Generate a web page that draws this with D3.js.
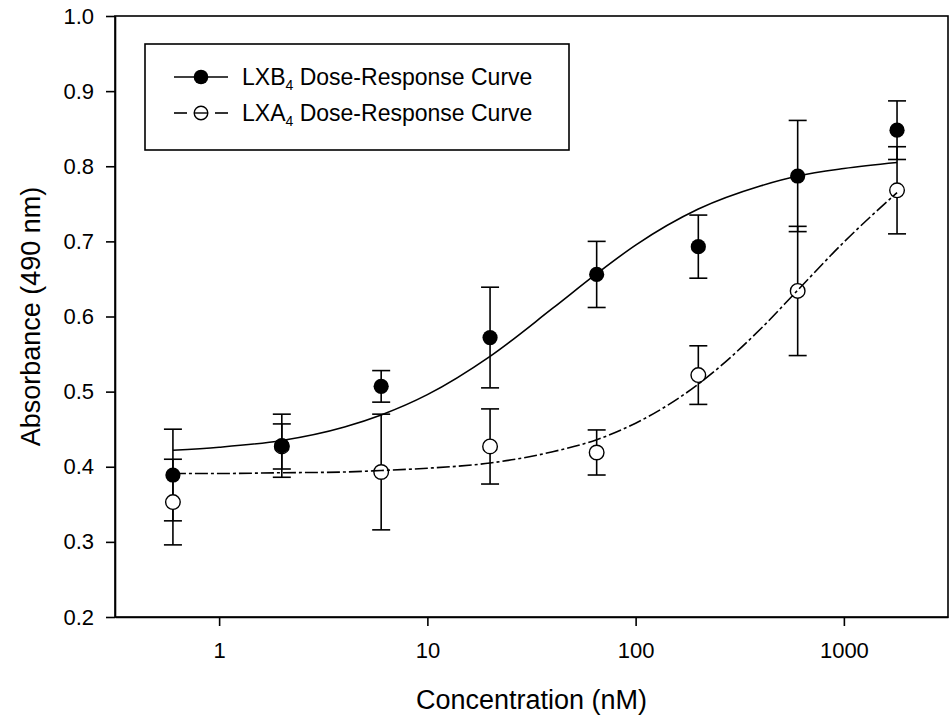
<!DOCTYPE html>
<html>
<head>
<meta charset="utf-8">
<script src="https://cdn.jsdelivr.net/npm/d3@7"></script>
<style>
  body { margin: 0; background: #fff; }
  text { font-family: Arial, "Liberation Sans", sans-serif; fill: #000; }
</style>
</head>
<body>
<script>
// measured points (mean +/- error), concentration in nM
var conc = [0.6, 2, 6, 20, 65, 200, 600, 1800];
var lxb4Mean = [0.389, 0.428, 0.507, 0.572, 0.656, 0.693, 0.787, 0.848];
var lxb4Err = [0.061, 0.042, 0.021, 0.067, 0.044, 0.042, 0.074, 0.039];
var lxa4Mean = [0.353, 0.427, 0.393, 0.427, 0.419, 0.522, 0.634, 0.768];
var lxa4Err = [0.057, 0.030, 0.077, 0.050, 0.030, 0.039, 0.086, 0.058];

// fitted curves
var curveConc = [0.6, 1, 2, 4, 6, 10, 20, 40, 65, 100, 200, 400, 600, 1000, 1800];
var lxb4Fit = [0.422, 0.426, 0.435, 0.453, 0.469, 0.496, 0.547, 0.611, 0.657, 0.695, 0.743, 0.774, 0.787, 0.797, 0.805];
var lxa4Fit = [0.391, 0.391, 0.392, 0.393, 0.395, 0.398, 0.405, 0.420, 0.436, 0.458, 0.510, 0.584, 0.635, 0.699, 0.765];

var xTicks = [1, 10, 100, 1000];
var yTicks = [0.2, 0.3, 0.4, 0.5, 0.6, 0.7, 0.8, 0.9, 1.0];

var w = 951;
var h = 720;
var plotLeft = 115, plotRight = 948, plotTop = 16, plotBottom = 617;

var svg = d3.select('body').append('svg')
  .attr('width', w)
  .attr('height', h);

var x = d3.scaleLog()
  .domain([Math.pow(10, -0.5), Math.pow(10, 3.5)])
  .range([plotLeft, plotRight]);

var y = d3.scaleLinear()
  .domain([0.2, 1.0])
  .range([plotBottom, plotTop]);

// frame
svg.append('rect')
  .attr('x', plotLeft)
  .attr('y', plotTop)
  .attr('width', plotRight - plotLeft)
  .attr('height', plotBottom - plotTop)
  .attr('fill', 'none')
  .attr('stroke', '#000')
  .attr('stroke-width', 1.6);

var yAxis = svg.append('g')
  .attr('transform', 'translate(' + plotLeft + ',0)')
  .call(d3.axisLeft(y).tickValues(yTicks).tickFormat(d3.format('.1f'))
    .tickSize(9).tickSizeOuter(0).tickPadding(12));

var xAxis = svg.append('g')
  .attr('transform', 'translate(0,' + plotBottom + ')')
  .call(d3.axisBottom(x).tickValues(xTicks).tickFormat(d3.format('d'))
    .tickSize(9).tickSizeOuter(0).tickPadding(16));

[xAxis, yAxis].forEach(g => {
  g.select('.domain').attr('stroke-width', 1.6);
  g.selectAll('.tick line').attr('stroke-width', 1.6);
  g.selectAll('.tick text')
    .attr('font-size', 22)
    .attr('font-family', 'Arial, "Liberation Sans", sans-serif')
    .attr('fill', '#000');
});

svg.append('text')
  .attr('x', (plotLeft + plotRight) / 2)
  .attr('y', 709)
  .attr('text-anchor', 'middle')
  .attr('font-size', 27)
  .text('Concentration (nM)');

svg.append('text')
  .attr('transform', 'translate(40,' + (plotTop + plotBottom) / 2 + ') rotate(-90)')
  .attr('text-anchor', 'middle')
  .attr('font-size', 27)
  .text('Absorbance (490 nm)');

var capHalf = 9;

var drawErrors = (means, errs) => {
  var g = svg.append('g').attr('stroke', '#000').attr('stroke-width', 1.6);
  conc.forEach((c, i) => {
    var cx = x(c);
    var y0 = y(means[i] - errs[i]);
    var y1 = y(means[i] + errs[i]);
    g.append('line').attr('x1', cx).attr('x2', cx).attr('y1', y0).attr('y2', y1);
    g.append('line').attr('x1', cx - capHalf).attr('x2', cx + capHalf).attr('y1', y0).attr('y2', y0);
    g.append('line').attr('x1', cx - capHalf).attr('x2', cx + capHalf).attr('y1', y1).attr('y2', y1);
  });
};

drawErrors(lxa4Mean, lxa4Err);
drawErrors(lxb4Mean, lxb4Err);

var line = d3.line()
  .x(d => x(d[0]))
  .y(d => y(d[1]))
  .curve(d3.curveMonotoneX);

svg.append('g').selectAll('circle')
  .data(d3.zip(conc, lxa4Mean))
  .enter()
  .append('circle')
  .attr('cx', d => x(d[0]))
  .attr('cy', d => y(d[1]))
  .attr('r', 7.3)
  .attr('fill', '#fff')
  .attr('stroke', '#000')
  .attr('stroke-width', 1.4);

svg.append('g').selectAll('circle')
  .data(d3.zip(conc, lxb4Mean))
  .enter()
  .append('circle')
  .attr('cx', d => x(d[0]))
  .attr('cy', d => y(d[1]))
  .attr('r', 7.6)
  .attr('fill', '#000');

svg.append('path')
  .datum(d3.zip(curveConc, lxb4Fit))
  .attr('d', line)
  .attr('fill', 'none')
  .attr('stroke', '#000')
  .attr('stroke-width', 1.6);

svg.append('path')
  .datum(d3.zip(curveConc, lxa4Fit))
  .attr('d', line)
  .attr('fill', 'none')
  .attr('stroke', '#000')
  .attr('stroke-width', 1.6)
  .attr('stroke-dasharray', '13,3,3,3');

// legend
var legend = svg.append('g');
legend.append('rect')
  .attr('x', 145)
  .attr('y', 44)
  .attr('width', 424)
  .attr('height', 106)
  .attr('fill', '#fff')
  .attr('stroke', '#000')
  .attr('stroke-width', 1.6);

var legendRows = [
  { name: 'LXB', rest: ' Dose-Response Curve', y: 77, filled: true },
  { name: 'LXA', rest: ' Dose-Response Curve', y: 113, filled: false }
];

legendRows.forEach(r => {
  if (r.filled) {
    legend.append('line')
      .attr('x1', 174).attr('x2', 228).attr('y1', r.y).attr('y2', r.y)
      .attr('stroke', '#000').attr('stroke-width', 1.6);
    legend.append('circle')
      .attr('cx', 201).attr('cy', r.y).attr('r', 7.3).attr('fill', '#000');
  } else {
    legend.append('line')
      .attr('x1', 174).attr('x2', 187).attr('y1', r.y).attr('y2', r.y)
      .attr('stroke', '#000').attr('stroke-width', 1.6);
    legend.append('line')
      .attr('x1', 215).attr('x2', 228).attr('y1', r.y).attr('y2', r.y)
      .attr('stroke', '#000').attr('stroke-width', 1.6);
    legend.append('circle')
      .attr('cx', 201).attr('cy', r.y).attr('r', 6.8)
      .attr('fill', 'none').attr('stroke', '#000').attr('stroke-width', 1.4);
    legend.append('line')
      .attr('x1', 194).attr('x2', 208).attr('y1', r.y).attr('y2', r.y)
      .attr('stroke', '#000').attr('stroke-width', 1.4);
  }
  var t = legend.append('text')
    .attr('x', 242)
    .attr('y', r.y + 8)
    .attr('font-size', 23);
  t.append('tspan').text(r.name);
  t.append('tspan').attr('font-size', 14).attr('dy', 5).text('4');
  t.append('tspan').attr('dy', -5).text(r.rest);
});
</script>
</body>
</html>
